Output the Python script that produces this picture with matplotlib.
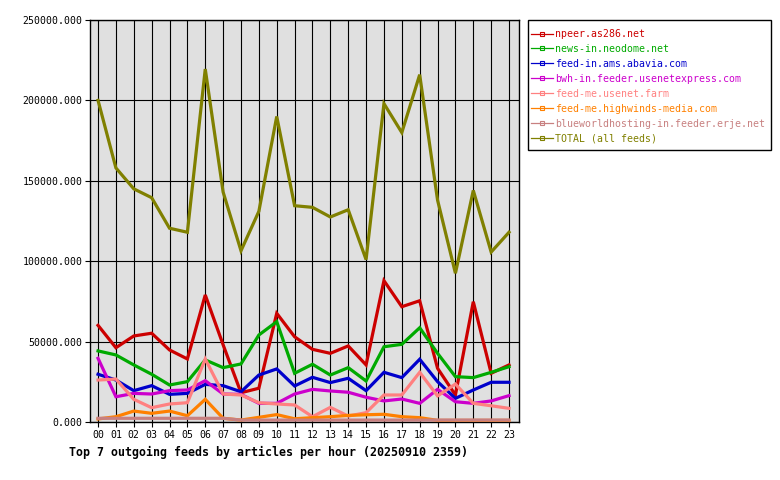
import matplotlib
matplotlib.use("Agg")
import matplotlib.pyplot as plt
from matplotlib.lines import Line2D
from matplotlib.patches import Rectangle
import numpy as np

hours = ["00","01","02","03","04","05","06","07","08","09","10","11",
         "12","13","14","15","16","17","18","19","20","21","22","23"]

npeer = [60100, 46200, 53500, 55200, 44800, 39200, 79000, 48000, 18200, 21000, 67600, 53000,
         45200, 42700, 47300, 35500, 87900, 71700, 75400, 33400, 16800, 74800, 30300, 35500]
neodome = [44200, 41700, 35500, 29700, 23000, 25100, 38600, 33800, 36100, 54100, 62400, 30300,
           35900, 29200, 33800, 25500, 46800, 48300, 58600, 42700, 28200, 27600, 30900, 34400]
abavia = [29700, 26100, 19500, 22600, 17200, 17800, 23400, 22600, 18800, 29200, 33000, 22400,
          27800, 24500, 27200, 19500, 30900, 27600, 39000, 25100, 14700, 19900, 24700, 24700]
usenetexpress = [39600, 15700, 17800, 17400, 19500, 19900, 25700, 17400, 17200, 11600, 11600, 17400,
                 20300, 19300, 18500, 15400, 13100, 14300, 11600, 20300, 12600, 11600, 13100, 16400]
usenetfarm = [26100, 26700, 14100, 8900, 11200, 12000, 39200, 17400, 16800, 12000, 11200, 10600,
              3300, 9100, 3700, 5800, 16800, 16800, 30900, 16200, 23600, 11600, 10100, 8500]
highwinds = [1900, 3300, 6800, 5400, 6800, 3900, 14100, 2300, 1200, 2900, 4600, 2000,
             2700, 3300, 4100, 4500, 4800, 3300, 2700, 1000, 1000, 1000, 1000, 1000]
erje = [2300, 2300, 2300, 2300, 2300, 2300, 2300, 2300, 1200, 1200, 1200, 1200,
        1200, 1200, 1200, 1200, 1200, 1200, 1200, 1200, 1200, 1200, 1200, 1200]
total = [200000, 158000, 145000, 139500, 120500, 118000, 219500, 143000, 106500, 131000, 190000, 134500,
         133500, 127500, 132000, 101000, 198000, 180000, 216000, 138000, 92500, 144000, 105700, 118000]

labels = ["npeer.as286.net", "news-in.neodome.net", "feed-in.ams.abavia.com",
          "bwh-in.feeder.usenetexpress.com", "feed-me.usenet.farm",
          "feed-me.highwinds-media.com", "blueworldhosting-in.feeder.erje.net",
          "TOTAL (all feeds)"]
series = [npeer, neodome, abavia, usenetexpress, usenetfarm, highwinds, erje, total]
colors = ["#cc0000", "#00aa00", "#0000cc", "#cc00cc", "#ff8080", "#ff8000", "#c88080", "#808000"]

yticks = [0, 50000, 100000, 150000, 200000, 250000]

FONT = "DejaVu Sans Mono"
plt.rcParams['font.family'] = [FONT]
FS = 7.1

fig = plt.figure(figsize=(7.8, 4.8), dpi=100)
ax = fig.add_axes([90/780, 1-422/480, (518.5-90)/780, (422-20)/480])
ax.set_facecolor("#e0e0e0")

x = np.arange(len(hours))
for s, c in zip(series, colors):
    ax.plot(x, s, color=c, lw=2.3, solid_joinstyle='miter', zorder=3)

ax.set_xlim(-0.45, 23.53)
ax.set_ylim(0, 250000)
ax.set_xticks(x)
ax.set_xticklabels(hours, fontsize=FS)
ax.set_yticks(yticks)
ax.set_yticklabels(["%.3f" % v for v in yticks], fontsize=FS)
ax.grid(True, color="black", lw=0.8, zorder=1)
ax.set_axisbelow(True)
for sp in ax.spines.values():
    sp.set_color("black")
    sp.set_linewidth(1.0)
ax.tick_params(axis='both', direction='out', length=3.5, width=0.8, color='black', pad=2)

fig.text(69/780, 1-452/480, "Top 7 outgoing feeds by articles per hour (20250910 2359)",
         fontsize=8.37, fontweight='bold', ha='left', va='center')

# legend frame
fig.patches.append(Rectangle((528/780, 1-150/480), (771-528)/780, (150-20)/480,
                             transform=fig.transFigure, facecolor='white',
                             edgecolor='black', lw=1.0, zorder=0))

handles = [Line2D([0], [0], color=c, lw=0.9, marker='s', markersize=2.5,
                  markerfacecolor='none', markeredgewidth=0.8) for c in colors]
leg = fig.legend(handles, labels, loc='upper left', bbox_to_anchor=(531/780, 1-29/480),
                 borderaxespad=0, fontsize=FS, frameon=False,
                 handlelength=2.2, handletextpad=0.2,
                 labelspacing=0.5, borderpad=0.0)
for t, c in zip(leg.get_texts(), colors):
    t.set_color(c)

fig.savefig("out.png", dpi=100)
